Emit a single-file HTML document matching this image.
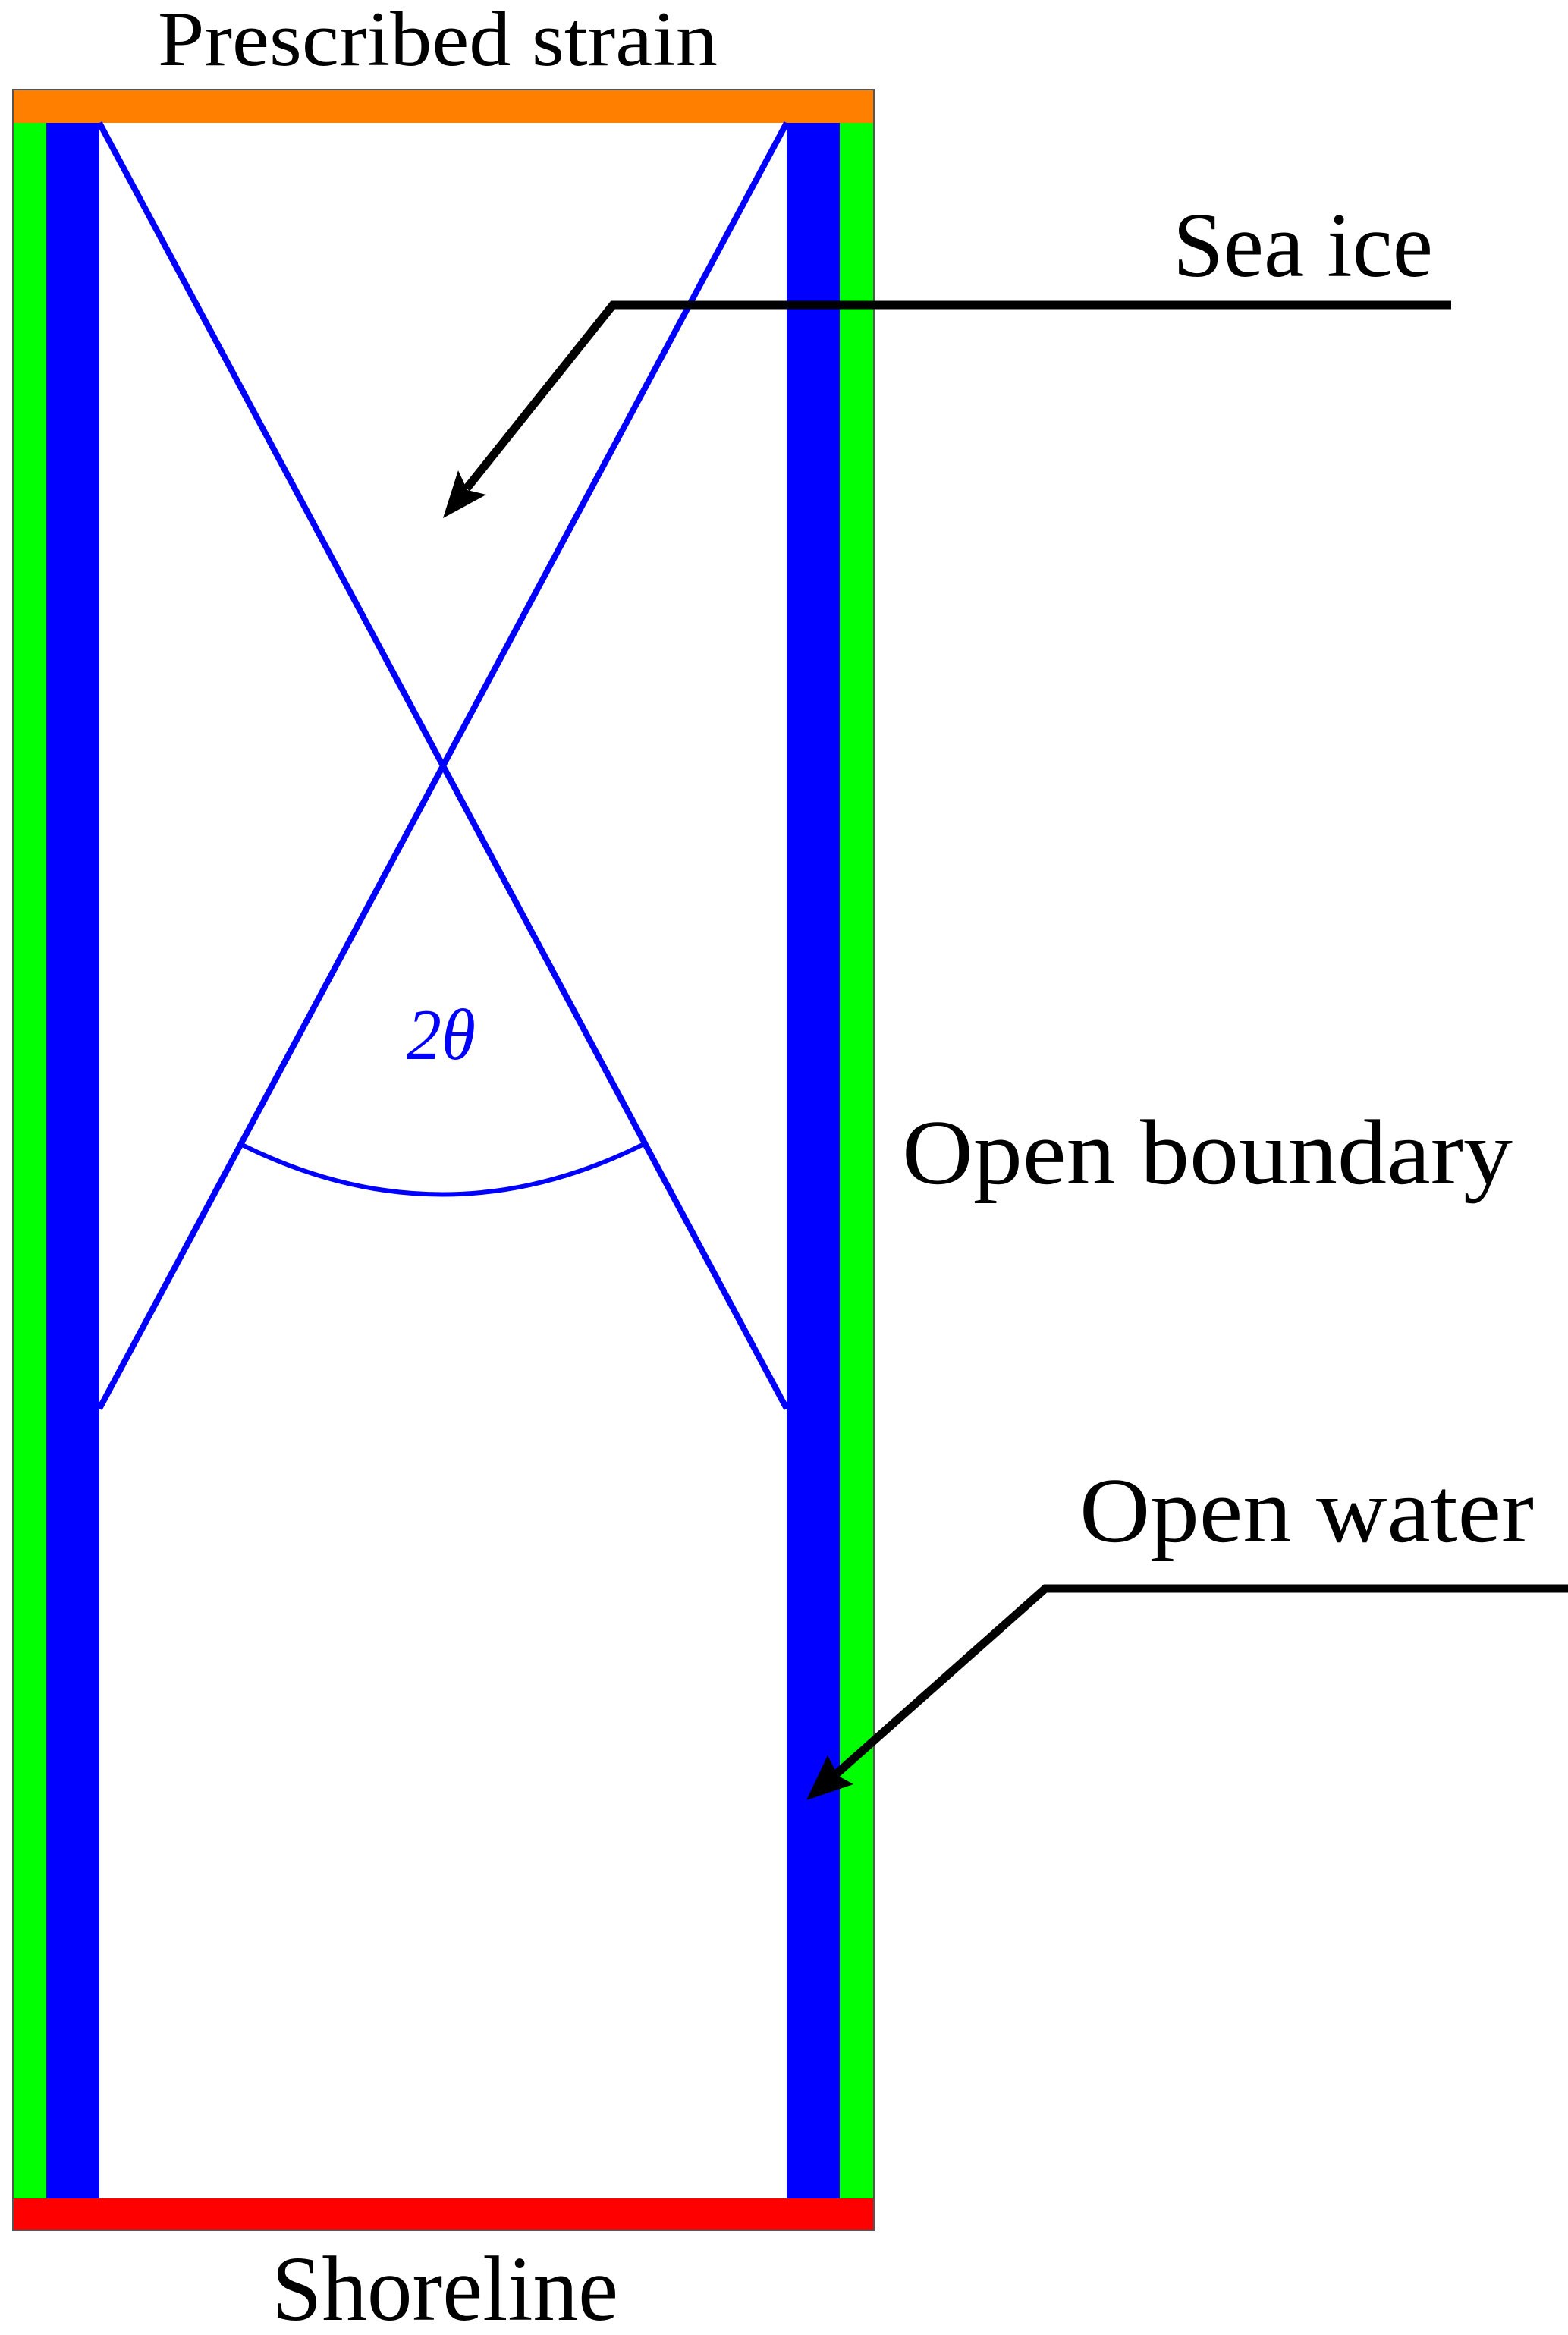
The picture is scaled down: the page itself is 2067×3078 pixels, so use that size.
<!DOCTYPE html>
<html><head><meta charset="utf-8"><style>html,body{margin:0;padding:0;background:#fff}svg{display:block}</style></head>
<body>
<svg width="2067" height="3078" viewBox="0 0 2067 3078" xmlns="http://www.w3.org/2000/svg">
<rect x="0" y="0" width="2067" height="3078" fill="#fff"/>
<rect x="17" y="118" width="44" height="2822" fill="#00ff00"/>
<rect x="61" y="118" width="70" height="2822" fill="#0000ff"/>
<rect x="1107" y="118" width="45" height="2822" fill="#00ff00"/>
<rect x="1037" y="118" width="70" height="2822" fill="#0000ff"/>
<rect x="17" y="118" width="1135" height="44" fill="#ff8000"/>
<rect x="17" y="2898" width="1135" height="42" fill="#ff0000"/>
<rect x="17" y="118" width="1135" height="2822" fill="none" stroke="#555" stroke-width="2"/>
<line x1="131" y1="162" x2="1037" y2="1857" stroke="#0000ff" stroke-width="8"/>
<line x1="1037" y1="162" x2="131" y2="1857" stroke="#0000ff" stroke-width="8"/>
<path d="M319 1509 Q583 1640 847 1509" fill="none" stroke="#0000ff" stroke-width="6"/>
<text x="536" y="1396" font-family="Liberation Serif, serif" font-style="italic" font-size="95" fill="#0000ff" textLength="91" lengthAdjust="spacingAndGlyphs">2θ</text>
<text x="208" y="86" font-family="Liberation Serif, serif" font-size="103" textLength="738" lengthAdjust="spacingAndGlyphs">Prescribed strain</text>
<text x="358" y="3058" font-family="Liberation Serif, serif" font-size="122" textLength="457" lengthAdjust="spacingAndGlyphs">Shoreline</text>
<text x="1546" y="364" font-family="Liberation Serif, serif" font-size="122" textLength="343" lengthAdjust="spacingAndGlyphs">Sea ice</text>
<text x="1189" y="1560" font-family="Liberation Serif, serif" font-size="122" textLength="805" lengthAdjust="spacingAndGlyphs">Open boundary</text>
<text x="1423" y="2032" font-family="Liberation Serif, serif" font-size="122" textLength="599" lengthAdjust="spacingAndGlyphs">Open water</text>
<polyline points="1913,402 808,402 615,644" fill="none" stroke="#000" stroke-width="11"/>
<polygon points="584,683 604,620 616,646 641,652" fill="#000"/>
<polyline points="2067,2094 1378,2094 1095,2345" fill="none" stroke="#000" stroke-width="11"/>
<polygon points="1063,2373 1091,2314 1105,2341 1125,2352" fill="#000"/>
</svg>
</body></html>
